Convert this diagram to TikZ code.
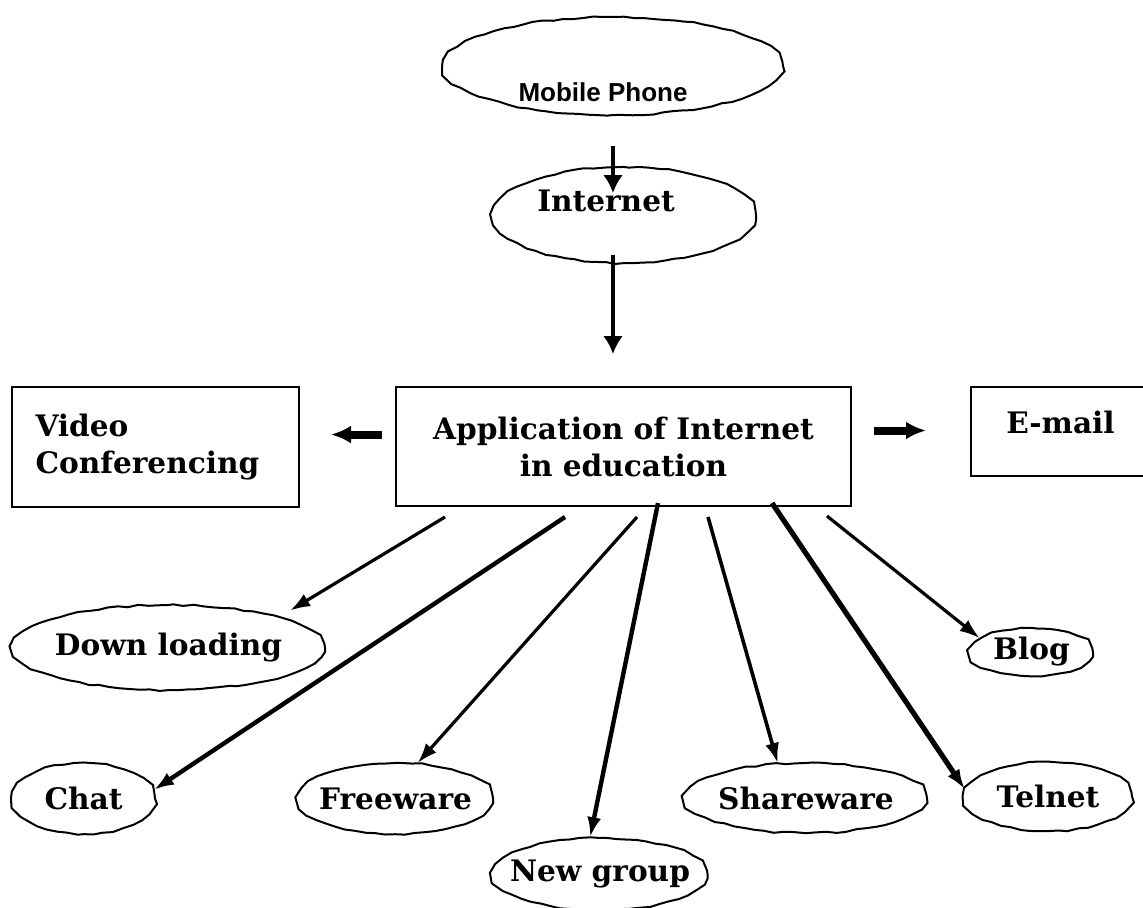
\documentclass[tikz,border=0pt]{standalone}
\usepackage{fontspec}
\setmainfont{DejaVu Serif}
\newfontfamily\phonefont{Liberation Sans}
\usepackage{tikz}
\usetikzlibrary{shapes.geometric,arrows.meta,decorations.pathmorphing}

\begin{document}
\begin{tikzpicture}[x=.5pt,y=-.5pt,
tag/.style={font=\bfseries\fontsize{14.8}{18.5}\selectfont},
bubble/.style={ellipse,draw,line width=1pt,inner xsep=-10pt,inner ysep=-2pt,
  decorate,decoration={random steps,segment length=5pt,amplitude=.45pt,pre length=2pt,post length=2pt}},
board/.style={rectangle,draw,line width=1pt},
link/.style={-{Latex[length=10pt,width=7pt]},line width=1.6pt},
heavylink/.style={link,line width=2.2pt},
downlink/.style={-{Latex[length=9pt,width=10pt]},line width=2pt},
fatlink/.style={-{Latex[length=10pt,width=9pt]},line width=4pt}
]
\pgfmathsetseed{7}
\useasboundingbox (0,0) rectangle (1143,907);

\node[bubble,minimum width=170pt,minimum height=49pt,
  label={[font=\phonefont\bfseries\fontsize{13}{15}\selectfont,xshift=-5pt,yshift=-13pt]center:Mobile Phone}] (mobile) at (613,66) {};
\node[bubble,minimum width=132pt,minimum height=48pt,
  label={[tag,xshift=-9pt,yshift=7pt]center:Internet}] (internet) at (624,215) {};
\node[board,tag,minimum width=227.5pt,minimum height=59.5pt,align=center] (app) at (623.5,446.5) {Application of Internet\\in education};
\node[board,tag,minimum width=143.5pt,minimum height=60pt,text width=120pt,inner xsep=0pt,align=left] (video) at (155.5,447) {Video\\Conferencing};
\node[board,minimum width=89.5pt,minimum height=44.5pt,
  label={[tag,yshift=4.75pt]center:E-mail}] (email) at (1060.5,431.5) {};

\node[bubble,tag,minimum width=156.5pt,minimum height=42.5pt] (down) at (168.5,647.5) {Down loading};
\node[bubble,tag,minimum width=61.5pt,minimum height=24pt] (blog) at (1031.5,652) {Blog};
\node[bubble,tag,minimum width=71.5pt,minimum height=35.5pt] (chat) at (83.5,798.5) {Chat};
\node[bubble,tag,minimum width=97.5pt,minimum height=35.5pt] (free) at (395.5,798.5) {Freeware};
\node[bubble,tag,minimum width=107.5pt,minimum height=36pt] (news) at (600,874) {New group};
\node[bubble,tag,minimum width=121pt,minimum height=35pt] (share) at (806,798) {Shareware};
\node[bubble,tag,minimum width=84pt,minimum height=34.5pt] (telnet) at (1048,796.5) {Telnet};

\draw[downlink,shorten <=15pt,shorten >=11pt] (mobile.south) -- (mobile.south |- internet.center);
\draw[downlink,shorten <=20pt,shorten >=16pt] (mobile.south |- internet.center) -- (mobile.south |- app.north);
\draw[fatlink,shorten <=6.5pt,shorten >=15.5pt] ([yshift=6pt]app.west) -- ([yshift=6pt]app.west -| video.east);
\draw[fatlink,shorten <=11pt,shorten >=22pt] ([yshift=8pt]app.east) -- ([yshift=8pt]app.east -| email.west);

\coordinate (s1) at (445,517);
\coordinate (s2) at (565,517);
\coordinate (s3) at (637,517);
\coordinate (s4) at (658,503);
\coordinate (s5) at (708,517);
\coordinate (s6) at (772,503);
\coordinate (s7) at (827,516);
\draw[link,shorten >=6pt] (s1) -- (down.north east);
\draw[heavylink] (s2) -- (chat.7);
\draw[link] (s3) -- (free.58);
\draw[heavylink] (s4) -- (news.105);
\draw[heavylink,line width=1.8pt] (s5) -- (share.129);
\draw[heavylink,line width=2.6pt] (s6) -- (telnet.175);
\draw[link] (s7) -- (blog.165);
\end{tikzpicture}
\end{document}
